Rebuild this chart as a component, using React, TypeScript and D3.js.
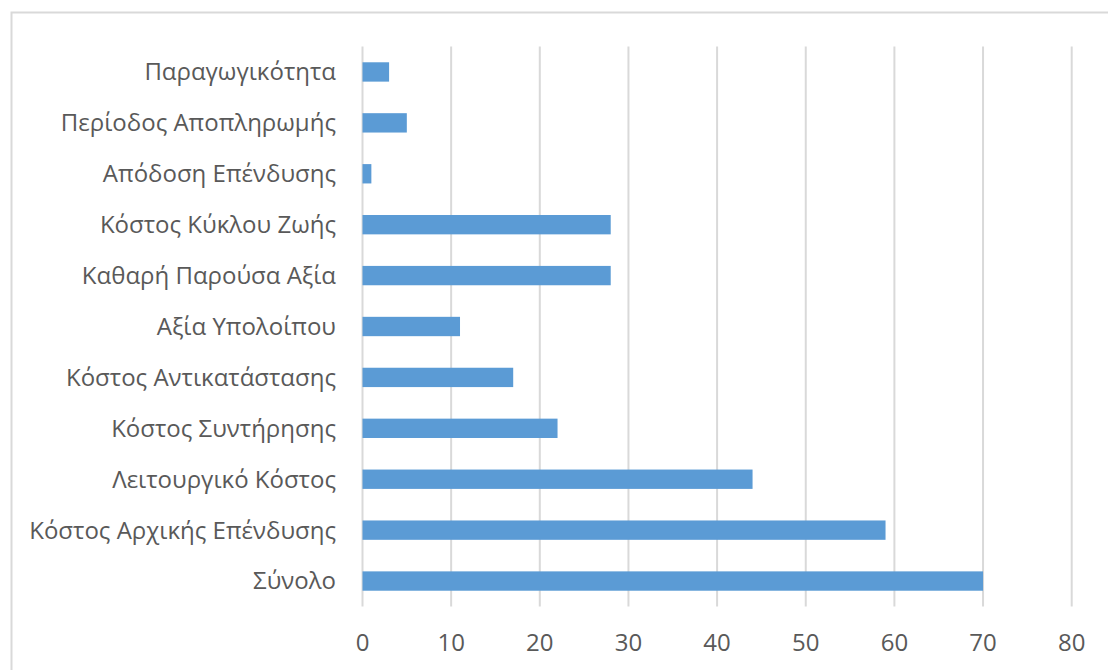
import React from "react";
import * as d3 from "d3";

const categories = [
  "Παραγωγικότητα",
  "Περίοδος Αποπληρωμής",
  "Απόδοση Επένδυσης",
  "Κόστος Κύκλου Ζωής",
  "Καθαρή Παρούσα Αξία",
  "Αξία Υπολοίπου",
  "Κόστος Αντικατάστασης",
  "Κόστος Συντήρησης",
  "Λειτουργικό Κόστος",
  "Κόστος Αρχικής Επένδυσης",
  "Σύνολο",
];
const values = [3, 5, 1, 28, 28, 11, 17, 22, 44, 59, 70];
const xTicks = [0, 10, 20, 30, 40, 50, 60, 70, 80];

export default function App() {
  const W = 1108, H = 670;
  const x = d3.scaleLinear().domain([0, 80]).range([362.5, 1071.7]);
  const y = d3.scaleBand<string>().domain(categories).range([46.5, 606.5]).paddingInner(0.62).paddingOuter(0.31);
  const font = "'Segoe UI', 'Open Sans', 'Noto Sans', sans-serif";
  return (
    <svg width={W} height={H} style={{ position: "absolute", left: 0, top: 0, background: "#fff" }}>
      <rect x={11.5} y={12.5} width={W + 10} height={H + 10} fill="#fff" stroke="#d9d9d9" strokeWidth={2} />
      {xTicks.map((t) => (
        <line key={t} x1={x(t)} x2={x(t)} y1={46.5} y2={606.5} stroke="#d9d9d9" strokeWidth={2} />
      ))}
      {categories.map((c, i) => (
        <rect key={c} x={x(0)} y={y(c)} width={x(values[i]) - x(0)} height={y.bandwidth()} fill="#5b9bd5" />
      ))}
      {categories.map((c) => (
        <text key={c} x={336} y={(y(c) ?? 0) + y.bandwidth() / 2} dy="0.35em" textAnchor="end" fontSize={24} fontFamily={font} fill="#595959">
          {c}
        </text>
      ))}
      {xTicks.map((t) => (
        <text key={t} x={x(t)} y={643} dy="0.35em" textAnchor="middle" fontSize={24} fontFamily={font} fill="#595959">
          {t}
        </text>
      ))}
    </svg>
  );
}
